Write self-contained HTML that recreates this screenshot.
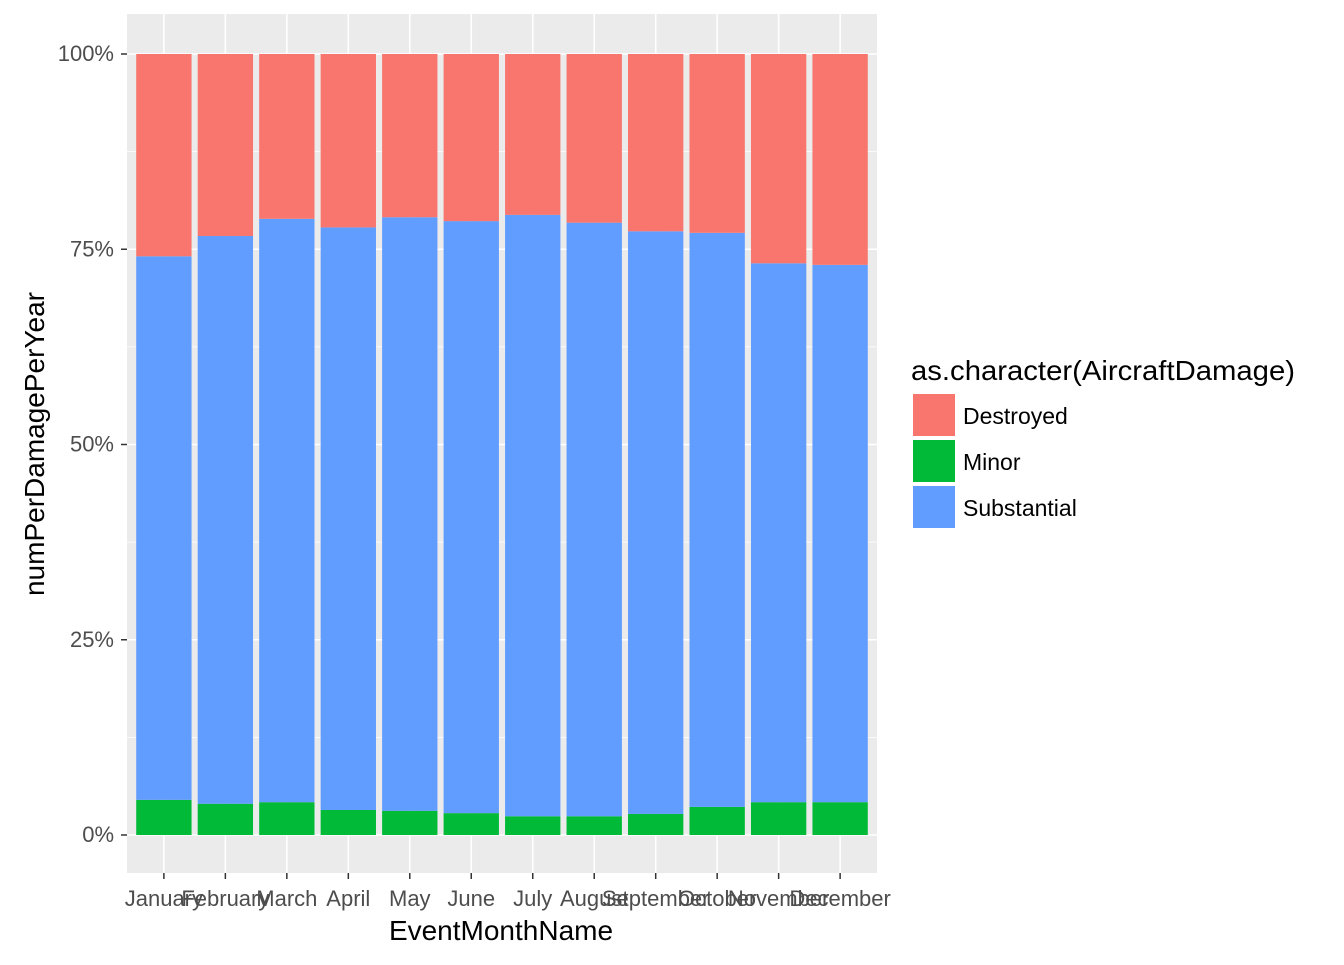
<!DOCTYPE html>
<html><head><meta charset="utf-8"><style>
body{margin:0;background:#fff;font-family:"Liberation Sans",sans-serif}
</style></head><body>
<svg id="chart" width="1344" height="960" xmlns="http://www.w3.org/2000/svg">
<rect x="127" y="14" width="750" height="859" fill="#ebebeb"/>
<g id="grid"></g><g id="bars"></g><g id="axes"></g>
<text x="501" y="940" font-size="28" text-anchor="middle" fill="#000">EventMonthName</text>
<text transform="translate(44,444) rotate(-90)" font-size="28" text-anchor="middle" fill="#000">numPerDamagePerYear</text>
<g>
<text x="911" y="380" font-size="28" textLength="384" lengthAdjust="spacingAndGlyphs" fill="#000">as.character(AircraftDamage)</text>
<rect x="913" y="394" width="42" height="42" fill="#f8766d"/>
<text x="963" y="424" font-size="23" fill="#000">Destroyed</text>
<rect x="913" y="440" width="42" height="42" fill="#00ba38"/>
<text x="963" y="470" font-size="23" fill="#000">Minor</text>
<rect x="913" y="486" width="42" height="42" fill="#619cff"/>
<text x="963" y="516" font-size="23" fill="#000">Substantial</text>
</g>
</svg>
<script>
const months=["January","February","March","April","May","June","July","August","September","October","November","December"];
const minor=[4.5,4.0,4.2,3.2,3.1,2.8,2.4,2.4,2.7,3.6,4.2,4.2];
const substantial=[69.6,72.7,74.7,74.6,76.0,75.8,77.0,76.0,74.6,73.5,69.0,68.8];
const destroyed=[25.9,23.3,21.1,22.2,20.9,21.4,20.6,21.6,22.7,22.9,26.8,27.0];
const yTicks=[0,25,50,75,100];
const yTickLabels=["0%","25%","50%","75%","100%"];
const NS="http://www.w3.org/2000/svg";
const px0=127,pw=750,y0=835,y100=54;
const unit=pw/(months.length+0.2);
const xc=i=>px0+(i+0.6)*unit;
const ys=v=>y0-(v/100)*(y0-y100);
function mk(tag,attrs,parent){const e=document.createElementNS(NS,tag);for(const k in attrs)e.setAttribute(k,attrs[k]);document.getElementById(parent).appendChild(e);return e;}
for(let i=0;i<yTicks.length-1;i++){const m=(yTicks[i]+yTicks[i+1])/2;
 const l=mk('line',{x1:px0,x2:px0+pw,y1:ys(m),y2:ys(m),stroke:'#fff','stroke-width':0.8},'grid');
 
 }
yTicks.forEach((t,i)=>{const y=ys(t);
 const l=mk('line',{x1:px0,x2:px0+pw,y1:y,y2:y,stroke:'#fff','stroke-width':1.6},'grid');
 
 
 const tk=mk('line',{x1:121,x2:127,y1:y,y2:y,stroke:'#333','stroke-width':1.5},'axes');
 
 
 const tx=mk('text',{x:114,y:y+7,'font-size':22,'text-anchor':'end',fill:'#4d4d4d'},'axes');
 tx.textContent=yTickLabels[i];
 
 });
const bw=unit*0.9;
months.forEach((m,i)=>{const x=xc(i);
 const g=mk('line',{x1:x,x2:x,y1:14,y2:873,stroke:'#fff','stroke-width':1.6},'grid');
 
 
 const segs=[[minor[i],'#00ba38','minor'],[substantial[i],'#619cff','substantial'],[destroyed[i],'#f8766d','destroyed']];
 let c=0;
 segs.forEach(s=>{const r=mk('rect',{x:x-bw/2,width:bw,y:ys(c+s[0]),height:ys(c)-ys(c+s[0]),fill:s[1]},'bars');
  
  
  c+=s[0];});
 const tk=mk('line',{x1:x,x2:x,y1:873,y2:879,stroke:'#333','stroke-width':1.5},'axes');
 
 
 const tx=mk('text',{x:x,y:906,'font-size':22,'text-anchor':'middle',fill:'#4d4d4d'},'axes');
 tx.textContent=m;
 
 });
</script>
</body></html>
